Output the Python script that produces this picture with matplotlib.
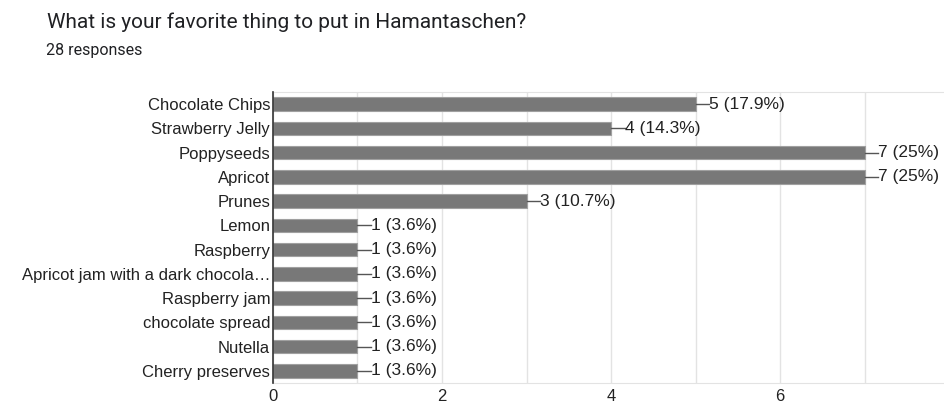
import matplotlib
matplotlib.use("Agg")
import matplotlib.pyplot as plt

categories = ["Chocolate Chips", "Strawberry Jelly", "Poppyseeds", "Apricot", "Prunes",
              "Lemon", "Raspberry", "Apricot jam with a dark chocola…", "Raspberry jam",
              "chocolate spread", "Nutella", "Cherry preserves"]
counts = [5, 4, 7, 7, 3, 1, 1, 1, 1, 1, 1, 1]
pct_labels = ["17.9%", "14.3%", "25%", "25%", "10.7%", "3.6%", "3.6%", "3.6%", "3.6%",
              "3.6%", "3.6%", "3.6%"]
xticks = [0, 2, 4, 6]
title = "What is your favorite thing to put in Hamantaschen?"
subtitle = "28 responses"

W, H = 945, 408
fig = plt.figure(figsize=(W / 100, H / 100), dpi=100)
left, right, top, bottom = 273, 949, 92, 383
ax = fig.add_axes([left / W, 1 - bottom / H, (right - left) / W, (bottom - top) / H])

n = len(categories)
ys = list(range(n))
ax.barh(ys, counts, height=0.56, color="#787878", edgecolor="#a0a0a0", linewidth=0.8, zorder=3)
ax.set_ylim(n - 0.5, -0.5)
ax.set_xlim(0, 8)

for y, c, p in zip(ys, counts, pct_labels):
    ax.plot([c, c + 0.16], [y, y], color="#555555", lw=1.0, zorder=4, clip_on=False)
    ax.text(c + 0.165, y, f"{c} ({p})", va="center", ha="left", fontsize=12.5,
            family="Liberation Sans", color="#222222", zorder=5, clip_on=False)

ax.set_yticks(ys)
ax.set_yticklabels(categories, fontsize=12, family="Liberation Sans", color="#222222")
ax.set_xticks(xticks)
ax.set_xticklabels([str(t) for t in xticks], fontsize=12, family="Liberation Sans", color="#222222")
ax.set_xticks([1, 3, 5, 7], minor=True)
ax.tick_params(axis="both", which="both", length=0)
ax.tick_params(axis="x", pad=4)
ax.tick_params(axis="y", pad=2)
ax.grid(axis="x", which="both", color="#e3e3e3", lw=1.0, zorder=0)

for s in ["top", "bottom"]:
    ax.spines[s].set_color("#e3e3e3")
ax.spines["right"].set_visible(False)
ax.spines["left"].set_color("#333333")
ax.spines["left"].set_linewidth(1.2)
ax.spines["left"].set_zorder(6)

fig.text(47 / W, 1 - 22 / H, title, fontsize=15, family="Roboto", color="#202124", va="center", ha="left")
fig.text(46 / W, 1 - 51 / H, subtitle, fontsize=11.5, family="Roboto", color="#202124", va="center", ha="left")

fig.savefig("out.png", dpi=100)
